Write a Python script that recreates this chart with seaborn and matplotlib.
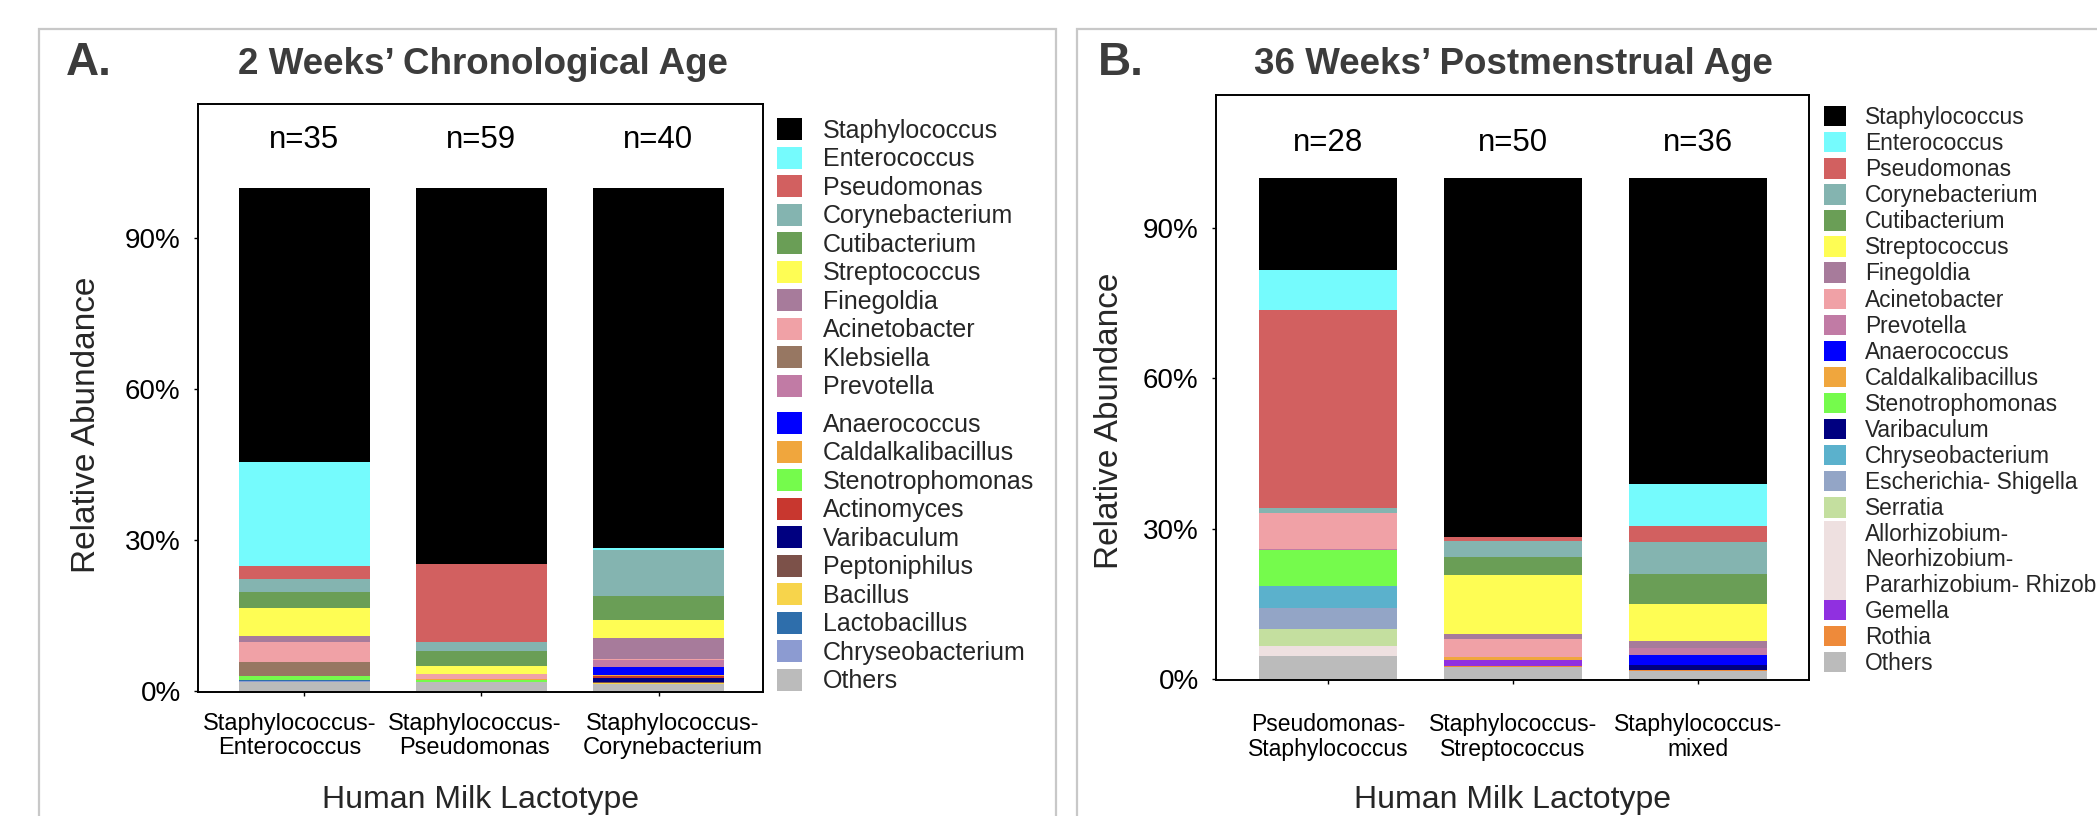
import numpy as np
import pandas as pd
import matplotlib
matplotlib.use("Agg")
import matplotlib.pyplot as plt
import matplotlib.transforms as mtransforms
from matplotlib.patches import Patch, Rectangle
from matplotlib.legend_handler import HandlerPatch
import seaborn as sns

sns.set_theme(style="white")
plt.rcParams["font.family"] = ["Liberation Sans", "DejaVu Sans"]

# ---------------- Panel A data (2 weeks' chronological age) ----------------
lactotypes_a = ["Staphylococcus-\nEnterococcus", "Staphylococcus-\nPseudomonas",
                "Staphylococcus-\nCorynebacterium"]
n_a = [35, 59, 40]
genera_a = ["Staphylococcus", "Enterococcus", "Pseudomonas", "Corynebacterium",
            "Cutibacterium", "Streptococcus", "Finegoldia", "Acinetobacter",
            "Klebsiella", "Prevotella", "Anaerococcus", "Caldalkalibacillus",
            "Stenotrophomonas", "Actinomyces", "Varibaculum", "Peptoniphilus",
            "Bacillus", "Lactobacillus", "Chryseobacterium", "Others"]
colors_a = ["#000000", "#75FBFD", "#D26060", "#84B4B0", "#6A9E56", "#FEFD54",
            "#A77B9B", "#F0A1A6", "#977762", "#C17BA5", "#0000FF", "#F0A63D",
            "#75FB4C", "#C8372F", "#000080", "#7C5149", "#F7D44B", "#2E6EAB",
            "#8C9BD1", "#BBBBBB"]
# relative abundance (%) per lactotype, in the order of genera_a
staph_entero_a = [54.55, 20.6, 2.65, 2.5, 3.2, 5.6, 1.2, 3.85, 2.85, 0.1,
                  0.0, 0.0, 0.65, 0.0, 0.0, 0.0, 0.0, 0.35, 0.2, 1.7]
staph_pseudo_a = [74.85, 0.0, 15.5, 1.65, 3.1, 1.5, 0.1, 0.85, 0.0, 0.0,
                  0.0, 0.25, 0.4, 0.0, 0.0, 0.0, 0.1, 0.0, 0.0, 1.7]
staph_coryne_a = [71.65, 0.3, 0.1, 9.0, 4.8, 3.65, 4.2, 0.1, 0.0, 1.5,
                  1.45, 0.3, 0.0, 0.35, 0.8, 0.3, 0.2, 0.0, 0.0, 1.3]

# ---------------- Panel B data (36 weeks' postmenstrual age) ----------------
lactotypes_b = ["Pseudomonas-\nStaphylococcus", "Staphylococcus-\nStreptococcus",
                "Staphylococcus-\nmixed"]
n_b = [28, 50, 36]
genera_b = ["Staphylococcus", "Enterococcus", "Pseudomonas", "Corynebacterium",
            "Cutibacterium", "Streptococcus", "Finegoldia", "Acinetobacter",
            "Prevotella", "Anaerococcus", "Caldalkalibacillus", "Stenotrophomonas",
            "Varibaculum", "Chryseobacterium", "Escherichia- Shigella", "Serratia",
            "Allorhizobium-\nNeorhizobium-\nPararhizobium- Rhizobium",
            "Gemella", "Rothia", "Others"]
colors_b = ["#000000", "#75FBFD", "#D26060", "#84B4B0", "#6A9E56", "#FEFD54",
            "#A77B9B", "#F0A1A6", "#C17BA5", "#0000FF", "#F0A63D", "#75FB4C",
            "#000080", "#5BB1CC", "#93A5C6", "#C4DF9F", "#EEE0E0", "#9030E0",
            "#EE8A3A", "#BBBBBB"]
pseudo_staph_b = [18.4, 8.0, 39.45, 1.1, 0.0, 0.0, 0.0, 7.1, 0.1, 0.15,
                  0.0, 7.1, 0.0, 4.5, 4.1, 3.5, 1.9, 0.0, 0.0, 4.6]
staph_strep_b = [71.6, 0.0, 0.85, 3.25, 3.6, 11.7, 1.1, 3.55, 0.0, 0.0,
                 0.6, 0.0, 0.0, 0.0, 0.0, 0.0, 0.0, 1.1, 0.2, 2.45]
staph_mixed_b = [61.1, 8.3, 3.2, 6.45, 6.0, 7.4, 1.3, 0.0, 1.5, 1.9,
                 0.15, 0.0, 0.85, 0.0, 0.0, 0.0, 0.0, 0.0, 0.35, 1.5]

W, H = 2097, 816
fig = plt.figure(figsize=(W / 100, H / 100), dpi=100)


def fx(px):
    return px / W


def fy(py):
    return 1 - py / H


def draw_panel(ax, lactotypes, genera, colors, bars, ns, n_y, width):
    rows = []
    for lt, vals in zip(lactotypes, bars):
        for g, v in zip(genera, vals):
            rows.append((lt, g, v))
    df = pd.DataFrame(rows, columns=["lactotype", "genus", "value"])
    df["genus"] = pd.Categorical(df["genus"], categories=genera[::-1], ordered=True)
    df = df.sort_values(["lactotype", "genus"])
    df["top"] = df.groupby("lactotype", sort=False)["value"].cumsum()
    for g, c in zip(genera, colors):
        sub = df[df["genus"] == g]
        sns.barplot(data=sub, x="lactotype", y="top", order=lactotypes, color=c,
                    width=width, saturation=1, errorbar=None, linewidth=0, ax=ax)
    for i, n in enumerate(ns):
        ax.text(i, n_y, f"n={n}", ha="center", va="center", fontsize=22.5, color="black")
    ax.set_yticks([0, 30, 60, 90])
    ax.set_yticklabels(["0%", "30%", "60%", "90%"])
    for sp in ax.spines.values():
        sp.set_visible(True)
        sp.set_color("black")
        sp.set_linewidth(1.4)
    ax.tick_params(axis="both", bottom=True, left=True, length=3, width=1,
                   color="black", labelcolor="black")
    ax.tick_params(axis="y", labelsize=20, pad=9.5)


# ---------------- Panel A ----------------
axA = fig.add_axes([fx(198), fy(692), fx(763) - fx(198), fy(104) - fy(692)])
draw_panel(axA, lactotypes_a, genera_a, colors_a,
           [staph_entero_a, staph_pseudo_a, staph_coryne_a], n_a, 109.5, 0.74)
axA.set_xlim(-0.6, 2.59)
axA.set_ylim(-0.2, 116.7)
axA.tick_params(axis="x", labelsize=17, pad=12)
axA.set_xlabel("Human Milk Lactotype", fontsize=23, va="center")
axA.xaxis.set_label_coords(0.5, (692 - 800) / 588)
axA.set_ylabel("Relative Abundance", fontsize=24, va="center")
axA.yaxis.set_label_coords((87 - 198) / 565, (692 - 425) / 588)
for lab, dx in zip(axA.get_xticklabels(), [-15, -7, 14]):
    lab.set_linespacing(1.1)
    lab.set_transform(lab.get_transform() +
                      mtransforms.ScaledTranslation(dx / 100, 0, fig.dpi_scale_trans))

# ---------------- Panel B ----------------
axB = fig.add_axes([fx(1216), fy(680), fx(1809) - fx(1216), fy(95) - fy(680)])
draw_panel(axB, lactotypes_b, genera_b, colors_b,
           [pseudo_staph_b, staph_strep_b, staph_mixed_b], n_b, 107, 0.75)
axB.set_xlim(-0.605, 2.6)
axB.set_ylim(-0.2, 116.6)
axB.tick_params(axis="x", labelsize=16.5, pad=21)
for lab in axB.get_xticklabels():
    lab.set_linespacing(1.1)
axB.set_xlabel("Human Milk Lactotype", fontsize=23, va="center")
axB.xaxis.set_label_coords(0.5, (680 - 800) / 585)
axB.set_ylabel("Relative Abundance", fontsize=24, va="center")
axB.yaxis.set_label_coords((1110 - 1216) / 593, (680 - 421) / 585)


# ---------------- Legends ----------------
class TallHandler(HandlerPatch):
    def create_artists(self, legend, orig_handle, xdescent, ydescent, width,
                       height, fontsize, trans):
        tall = 3.55 * fontsize
        p = Rectangle((-xdescent, -ydescent + height / 2 - tall / 2), width, tall,
                      facecolor=orig_handle.get_facecolor(), edgecolor="none",
                      transform=trans)
        return [p]


handles_a = [Patch(facecolor=c, edgecolor="none", label=g)
             for g, c in zip(genera_a, colors_a)]
common_a = dict(loc="upper left", bbox_transform=fig.transFigure, frameon=False,
                fontsize=18, handlelength=1.0, handleheight=1.0,
                handletextpad=0.84, labelspacing=0.15, borderpad=0,
                borderaxespad=0)
legA1 = axA.legend(handles=handles_a[:10], bbox_to_anchor=(fx(777), fy(118)),
                   **common_a)
axA.add_artist(legA1)
legA2 = axA.legend(handles=handles_a[10:], bbox_to_anchor=(fx(777), fy(412)),
                   **common_a)

handles_b = [Patch(facecolor=c, edgecolor="none", label=g)
             for g, c in zip(genera_b, colors_b)]
tall_handle = handles_b[16]
legB = axB.legend(handles=handles_b, loc="upper left",
                  bbox_to_anchor=(fx(1824), fy(106)), bbox_transform=fig.transFigure,
                  frameon=False, fontsize=16.4, handlelength=0.96, handleheight=1.0,
                  handletextpad=0.83, labelspacing=0.135, borderpad=0,
                  borderaxespad=0, handler_map={tall_handle: TallHandler()})
for t in legB.get_texts():
    t.set_linespacing(1.12)

# ---------------- Titles & panel frames ----------------
fig.text(fx(66), fy(63), "A.", fontsize=33, weight="bold", color="#3c3c3c",
         ha="left", va="center")
fig.text(fx(238), fy(64), "2 Weeks\u2019 Chronological Age", fontsize=26.5,
         weight="bold", color="#3c3c3c", ha="left", va="center")
fig.text(fx(1098), fy(63), "B.", fontsize=33, weight="bold", color="#3c3c3c",
         ha="left", va="center")
fig.text(fx(1254), fy(64), "36 Weeks\u2019 Postmenstrual Age", fontsize=26.5,
         weight="bold", color="#3c3c3c", ha="left", va="center")

fig.add_artist(Rectangle((fx(39), -0.05), fx(1056) - fx(39), fy(29) + 0.05,
                         transform=fig.transFigure, fill=False,
                         edgecolor="#c8c8c8", linewidth=1.6))
fig.add_artist(Rectangle((fx(1077), -0.05), 0.6, fy(29) + 0.05,
                         transform=fig.transFigure, fill=False,
                         edgecolor="#c8c8c8", linewidth=1.6))

fig.savefig("out.png", dpi=100, facecolor="white")
